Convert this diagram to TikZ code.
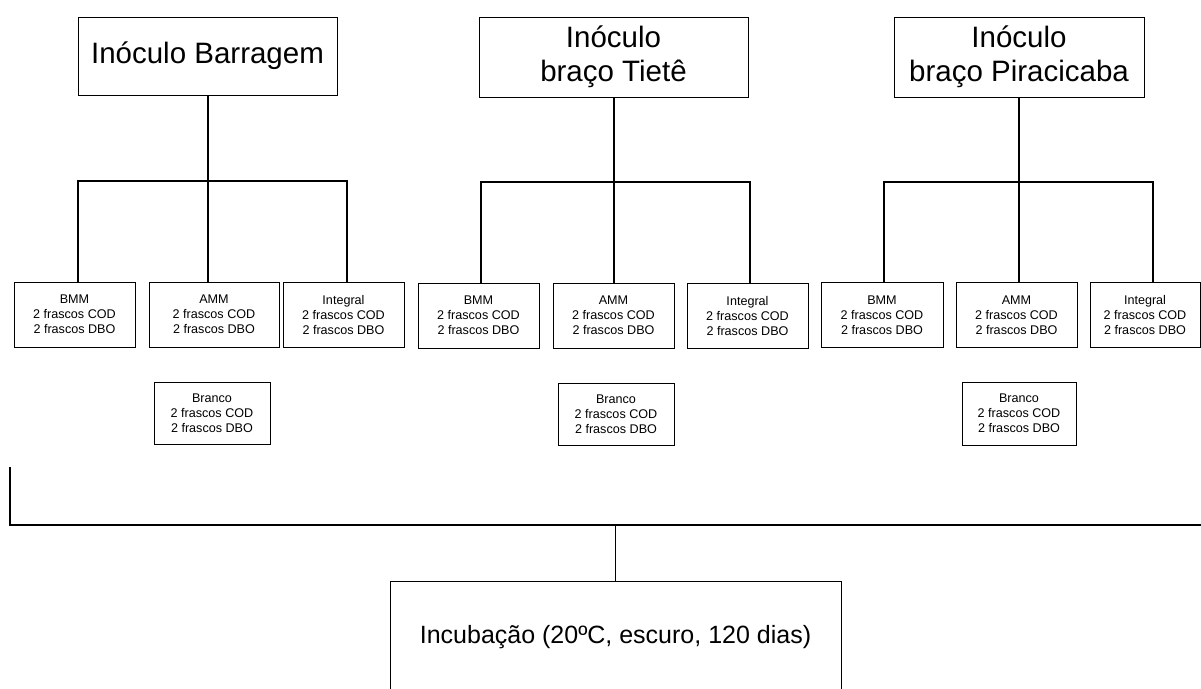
\documentclass[tikz,border=0pt]{standalone}
\usepackage{fontspec}
\setmainfont{Liberation Sans}
\begin{document}
\begin{tikzpicture}[x=1pt,y=-1pt,
  topbox/.style={draw, line width=1pt, inner sep=0pt, align=center,
    font=\fontsize{29.5}{34}\selectfont},
  smallbox/.style={draw, line width=0.9pt, inner sep=0pt, align=center,
    minimum height=65pt, font=\fontsize{12.6}{15}\selectfont},
  blankbox/.style={smallbox, minimum width=116pt, minimum height=62pt},
  finalbox/.style={draw, line width=1pt, inner sep=0pt,
    font=\fontsize{25}{30}\selectfont},
  conn/.style={line width=2pt, line cap=rect},
  link/.style={line width=1.6pt}]
\useasboundingbox (0,0) rectangle (1201,688);
\clip (0,0) rectangle (1201,688);

% inoculum sources
\node[topbox, minimum width=259pt, minimum height=78pt] (t1) at (207.5,56) {Inóculo Barragem};
\node[topbox, minimum width=269pt, minimum height=80pt] (t2) at (613.5,57) {Inóculo\\braço Tietê};
\node[topbox, minimum width=250pt, minimum height=80pt] (t3) at (1019,57) {Inóculo\\braço Piracicaba};

% treatments, Barragem
\node[smallbox, minimum width=121pt] (bmm1) at (74.5,314.5) {BMM\\2 frascos COD\\2 frascos DBO};
\node[smallbox, minimum width=130pt] (amm1) at (214,314.5) {AMM\\2 frascos COD\\2 frascos DBO};
\node[smallbox, minimum width=121pt] (int1) at (343.5,314.5) {Integral\\2 frascos COD\\2 frascos DBO};
\node[blankbox] (br1) at (212,413) {Branco\\2 frascos COD\\2 frascos DBO};

% treatments, braço Tietê
\node[smallbox, minimum width=121pt] (bmm2) at (478.5,315.5) {BMM\\2 frascos COD\\2 frascos DBO};
\node[smallbox, minimum width=121pt] (amm2) at (613.5,315.5) {AMM\\2 frascos COD\\2 frascos DBO};
\node[smallbox, minimum width=121pt] (int2) at (747.5,315.5) {Integral\\2 frascos COD\\2 frascos DBO};
\node[blankbox] (br2) at (616,414) {Branco\\2 frascos COD\\2 frascos DBO};

% treatments, braço Piracicaba
\node[smallbox, minimum width=122pt] (bmm3) at (882,315) {BMM\\2 frascos COD\\2 frascos DBO};
\node[smallbox, minimum width=121pt] (amm3) at (1016.5,315) {AMM\\2 frascos COD\\2 frascos DBO};
\node[smallbox, minimum width=110pt] (int3) at (1145,315) {Integral\\2 frascos COD\\2 frascos DBO};
\node[blankbox, minimum width=114pt, minimum height=63pt] (br3) at (1019,413.5) {Branco\\2 frascos COD\\2 frascos DBO};

% incubation
\node[finalbox, minimum width=451pt, minimum height=112pt] (inc) at (615.5,637) {Incubação (20ºC, escuro, 120 dias)};

% branching bars
\coordinate (l1) at (78,181);  \coordinate (r1) at (347,181);
\coordinate (l2) at (481,182); \coordinate (r2) at (750,182);
\coordinate (l3) at (884,182); \coordinate (r3) at (1153,182);

\draw[conn] (t1.south) -- (t1.south |- amm1.north);
\draw[conn] (l1 |- bmm1.north) -- (l1) -- (r1) -- (r1 |- int1.north);
\draw[conn] (t2.south) -- (amm2.north);
\draw[conn] (l2 |- bmm2.north) -- (l2) -- (r2) -- (r2 |- int2.north);
\draw[conn] (t3.south) -- (t3.south |- amm3.north);
\draw[conn] (l3 |- bmm3.north) -- (l3) -- (r3) -- (r3 |- int3.north);

% collecting line into the incubation
\coordinate (cl) at (10,468);
\coordinate (cr) at (1201,524.5);
\draw[conn] (cl) -- (cl |- cr) -- (cr);
\draw[link] (inc.north) -- (inc.north |- cr);
\end{tikzpicture}
\end{document}
